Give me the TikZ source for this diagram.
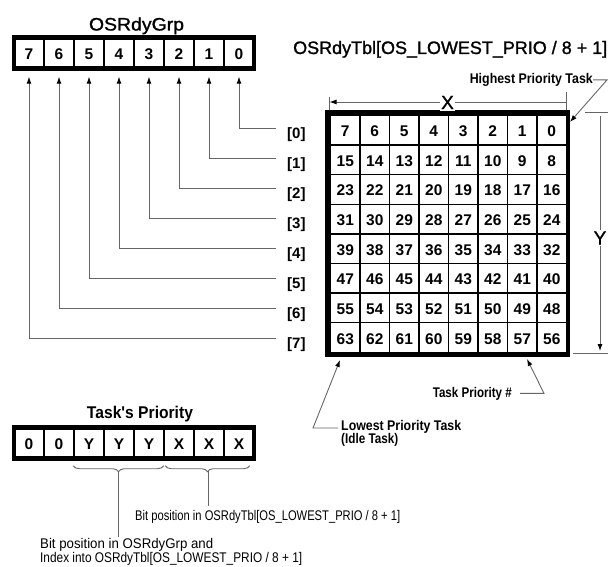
\documentclass[tikz,border=0pt]{standalone}
\usepackage{fontspec}
\usepackage{graphicx}
\setmainfont{Liberation Sans}
\newfontfamily\medfont{Liberation Sans}[FakeBold=1.2]
\newfontfamily\rawfont{Liberation Sans}
\usetikzlibrary{arrows.meta,calc,decorations.pathreplacing}
\newcommand\fitw[2]{\resizebox{#1pt}{\height}{#2}}
\begin{document}
\begin{tikzpicture}[x=1pt,y=-1pt,
  box/.style={draw,line width=1.4pt,minimum width=30pt,minimum height=28pt,inner sep=0pt,
    text height=13pt,text depth=0pt,font=\fontsize{15.5}{16}\selectfont\bfseries},
  gridcell/.style={box,fill=white,minimum width=29.5pt,minimum height=29.6pt},
  frame/.style={line width=4pt},
  conn/.style={draw=black!60,line width=0.9pt},
  arr/.style={-{Latex[length=7pt,width=5pt,color=black]}},
  title/.style={inner sep=0pt,font=\fontsize{18}{20}\selectfont\medfont},
  note/.style={inner sep=0pt,font=\fontsize{14}{15}\selectfont\bfseries},
  plain/.style={inner sep=0pt,font=\fontsize{14}{15}\selectfont},
  rowlbl/.style={inner sep=0pt,text height=11pt,text depth=0pt,font=\fontsize{15}{16}\selectfont\bfseries},
  dim/.style={inner sep=1.5pt,fill=white,font=\fontsize{19}{20}\selectfont\medfont},
  bracelike/.style={conn,decorate,decoration={brace,mirror,amplitude=6pt}},
]
\useasboundingbox[fill=white] (0,0) rectangle (608,567);

% ---------- OSRdyGrp ----------
\node[title,anchor=base] (tg) at (136.5,30.5) {\fitw{95}{OSRdyGrp}};
\foreach \k in {0,...,7} \node[box] (g\k) at ({29+30*(7-\k)},53) {\k};
\draw[frame] (14,37) rectangle (254,69);

% ---------- OSRdyTbl ----------
\node[title,anchor=base west] (tt) at (293,54) {\fitw{314}{OSRdyTbl[OS\_LOWEST\_PRIO / 8 + 1]}};
\fill (325,110) rectangle (569.5,357);
\foreach \r in {0,...,7} \foreach \c in {0,...,7} {
  \pgfmathtruncatemacro\v{8*\r+7-\c}
  \node[gridcell] (t\r-\c) at ({345.25+29.5*\c},{130.3+29.6*\r}) {\v};
}

% row labels and connectors
\foreach \k in {0,...,7} {
  \node[rowlbl,anchor=west] (l\k) at (287,{133+30*\k}) {[\k]};
  \draw[conn,arr] ($(l\k.west)+(-11,-4.5)$) -| ($(g\k.south)+(0,9)$);
}

% X dimension
\coordinate (xl) at (329.5,102);
\coordinate (xr) at (566,102);
\draw[conn] (329,97) -- (329,110);
\draw[conn] (566,92) -- (566,110);
\draw[conn,arr] (xr) -- (xl);
\node[dim] (xlab) at (447.5,102.5) {X};

% Y dimension
\coordinate (yt) at (600,116);
\coordinate (yb) at (600,351);
\draw[conn] (585,112) -- (608,112);
\draw[conn] (573,353) -- (608,353);
\draw[conn,arr] (yt) -- (yb);
\node[dim] (ylab) at (600,238) {Y};

% annotations
\node[note,anchor=base east] (hp) at (593,83.5) {\fitw{123}{Highest Priority Task}};
\coordinate (hpt) at (570,122);
\draw[conn,arr] (hp.east) -- ++(14,0) -- (hpt);

\node[note,anchor=base east] (tp) at (512,397) {\fitw{79}{Task Priority \#}};
\coordinate (tpt) at (527,359);
\draw[conn,arr] ($(tp.east)+(8,0)$) -- ++(24,0) -- (tpt);

\node[note,anchor=base west] (lp1) at (341,430) {\fitw{120}{Lowest Priority Task}};
\node[note,anchor=base west] (lp2) at (341,443) {\fitw{57}{(Idle Task)}};
\coordinate (lpt) at (340,360);
\draw[conn,arr] ($(lp1.base west)+(-3,-2)$) -- (313,428) -- (lpt);

% ---------- Task's Priority ----------
\node[inner sep=0pt,anchor=base,font=\fontsize{17}{18}\selectfont\rawfont\bfseries] (tpr) at (140,418.5) {\fitw{106}{Task's Priority}};
\foreach \t [count=\i from 0] in {0,0,Y,Y,Y,X,X,X}
  \node[box] (p\i) at ({29+30*\i},443) {\t};
\draw[frame] (14,427) rectangle (254,459);

\draw[bracelike] ($(p2.south west)+(0,8)$) -- ($(p4.south east)+(-1,8)$);
\draw[bracelike] ($(p5.south west)+(2,8)$) -- ($(p7.south east)+(-5,8)$);
\coordinate (ytip) at (118.5,471);
\coordinate (xtip) at (208.5,471);

\node[plain,anchor=base west] (bx) at (135,520) {\fitw{265}{Bit position in OSRdyTbl[OS\_LOWEST\_PRIO / 8 + 1]}};
\node[plain,anchor=base west] (by1) at (40,548) {\fitw{173}{Bit position in OSRdyGrp and}};
\node[plain,anchor=base west] (by2) at (40,562) {\fitw{262}{Index into OSRdyTbl[OS\_LOWEST\_PRIO / 8 + 1]}};

\draw[conn] (xtip) -- ($(xtip |- bx.north)+(0,-4)$);
\draw[conn] (ytip) -- ($(ytip |- by1.north)+(0,-1)$);
\end{tikzpicture}
\end{document}
